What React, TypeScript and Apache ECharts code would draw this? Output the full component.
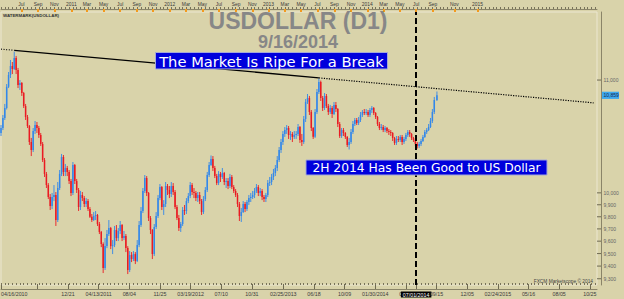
import React, { useEffect, useRef } from 'react';
import * as echarts from 'echarts';

// ---------- data ----------
const START_DATE = '2010-04-16';
const LAST_BAR = '2014-09-16';
const AXIS_END = '2015-11-13';

// weekly candles [open, close, low, high]; one per week (Fridays from 2010-04-16), last one is 2014-09-16
const weeklyOHLC: number[][] = [
  [10519,10563,10492,10590],[10563,10653,10545,10680],[10653,10743,10635,10780],[10743,10938,10730,10963],[10938,11047,10926,11075],[11047,11132,11019,11188],[11132,11103,11056,11169],[11103,11207,11094,11268],[11207,11094,11056,11226],[11094,10954,10926,11113],
  [10954,10972,10908,11000],[10972,10880,10853,10982],[10880,10761,10743,10890],[10761,10662,10635,10780],[10662,10581,10563,10680],[10581,10439,10413,10590],[10439,10369,10316,10475],[10369,10536,10351,10563],[10536,10590,10510,10626],[10590,10563,10519,10617],
  [10563,10501,10475,10581],[10501,10422,10404,10519],[10422,10281,10264,10439],[10281,10161,10135,10299],[10161,10066,10041,10178],[10066,9965,9948,10083],[9965,9889,9856,9990],[9889,9965,9864,9999],[9965,9982,9931,10066],[9982,9773,9724,10007],
  [9773,10041,9757,10092],[10041,10161,10024,10195],[10161,10307,10143,10334],[10307,10178,10143,10325],[10178,10212,10143,10247],[10212,10178,10143,10230],[10178,10100,10075,10195],[10100,9999,9973,10118],[9999,10238,9982,10264],[10238,10100,10075,10247],
  [10100,10024,9999,10118],[10024,9881,9848,10041],[9881,9982,9856,10016],[9982,9956,9931,10007],[9956,9906,9881,9973],[9906,9931,9881,9956],[9931,9864,9848,9948],[9864,9800,9790,9881],[9800,9773,9757,9823],[9773,9806,9765,9839],
  [9806,9815,9773,9848],[9815,9740,9724,9823],[9740,9675,9658,9757],[9675,9577,9552,9683],[9577,9385,9345,9590],[9385,9560,9369,9625],[9560,9658,9544,9691],[9658,9707,9642,9773],[9707,9560,9536,9716],[9560,9568,9496,9609],
  [9568,9691,9552,9724],[9691,9625,9601,9732],[9625,9683,9601,9707],[9683,9732,9658,9765],[9732,9625,9601,9740],[9625,9642,9609,9683],[9642,9544,9512,9658],[9544,9369,9337,9560],[9369,9488,9353,9520],[9488,9456,9432,9512],
  [9456,9496,9440,9520],[9496,9440,9416,9512],[9440,9568,9432,9609],[9568,9732,9552,9765],[9732,9848,9716,9881],[9848,10016,9831,10041],[10016,10126,9999,10152],[10126,9999,9973,10143],[9999,9790,9765,10007],[9790,9691,9658,9806],
  [9691,9496,9456,9699],[9496,9716,9480,9740],[9716,9806,9699,9839],[9806,9956,9790,9982],[9956,10049,9939,10075],[10049,9881,9856,10058],[9881,9906,9815,9939],[9906,10058,9881,10092],[10058,10024,9982,10075],[10024,9990,9956,10058],
  [9990,10058,9965,10092],[10058,10007,9982,10083],[10007,9881,9864,10024],[9881,9790,9773,9898],[9790,9707,9683,9815],[9707,9740,9675,9757],[9740,9856,9724,9881],[9856,9848,9815,9898],[9848,9931,9823,9956],[9931,9973,9914,9999],
  [9973,10066,9956,10092],[10066,10007,9982,10083],[10007,9999,9956,10041],[9999,9956,9931,10016],[9956,9982,9923,10007],[9982,9931,9906,10007],[9931,9839,9815,9948],[9839,9948,9823,9973],[9948,10024,9931,10049],[10024,10152,10007,10178],
  [10152,10238,10135,10264],[10238,10290,10230,10321],[10290,10212,10186,10316],[10212,10143,10126,10230],[10143,10083,10066,10161],[10083,10161,10066,10186],[10161,10135,10092,10178],[10135,10169,10118,10212],[10169,10092,10066,10178],[10092,10100,10041,10126],
  [10100,10058,10032,10126],[10058,10135,10041,10161],[10135,10049,10032,10152],[10049,10016,9999,10066],[10016,9982,9965,10032],[9982,9906,9881,9999],[9906,9806,9765,9923],[9806,9839,9757,9873],[9839,9906,9831,9931],[9906,9864,9839,9923],
  [9864,9923,9848,9939],[9923,9956,9898,9982],[9956,9965,9923,9999],[9965,9982,9948,10016],[9982,10016,9956,10041],[10016,10049,9999,10075],[10049,9999,9973,10066],[9999,10016,9973,10041],[10016,9965,9939,10032],[9965,9948,9923,9982],
  [9948,9982,9923,9999],[9982,10083,9965,10109],[10083,10092,10058,10135],[10092,10135,10066,10161],[10135,10169,10109,10204],[10169,10212,10143,10238],[10212,10281,10186,10316],[10281,10369,10264,10395],[10369,10439,10343,10466],[10439,10510,10413,10536],
  [10510,10545,10484,10572],[10545,10563,10510,10590],[10563,10501,10466,10581],[10501,10510,10457,10536],[10510,10484,10439,10527],[10484,10501,10466,10536],[10501,10510,10466,10536],[10510,10572,10492,10599],[10572,10457,10431,10581],[10457,10439,10404,10510],
  [10439,10644,10422,10671],[10644,10798,10617,10825],[10798,10834,10780,10871],[10834,10707,10680,10853],[10707,10563,10536,10725],[10563,10486,10466,10572],[10486,10707,10475,10734],[10707,10890,10689,10917],[10890,10982,10871,11014],[10982,10834,10807,10995],
  [10834,10743,10716,10853],[10743,10853,10725,10880],[10853,10761,10743,10871],[10761,10707,10680,10780],[10707,10743,10689,10771],[10743,10689,10653,10761],[10689,10771,10680,10798],[10771,10734,10707,10798],[10734,10599,10572,10743],[10599,10492,10475,10617],
  [10492,10545,10475,10563],[10545,10519,10492,10563],[10519,10484,10466,10527],[10484,10413,10395,10492],[10413,10439,10373,10475],[10439,10527,10422,10554],[10527,10599,10510,10626],[10599,10635,10581,10653],[10635,10608,10590,10653],[10608,10635,10590,10662],
  [10635,10680,10617,10707],[10680,10707,10662,10725],[10707,10698,10680,10734],[10698,10707,10680,10734],[10707,10680,10662,10725],[10680,10725,10662,10743],[10725,10743,10698,10761],[10743,10698,10680,10752],[10698,10662,10644,10707],[10662,10599,10581,10671],
  [10599,10563,10545,10617],[10563,10572,10545,10599],[10572,10545,10527,10590],[10545,10563,10527,10581],[10563,10536,10519,10572],[10536,10527,10501,10554],[10527,10519,10492,10545],[10519,10475,10448,10527],[10475,10431,10413,10484],[10431,10466,10413,10492],
  [10466,10457,10439,10492],[10457,10484,10439,10501],[10484,10439,10413,10501],[10439,10466,10422,10484],[10466,10501,10448,10519],[10501,10527,10484,10545],[10527,10510,10484,10545],[10510,10475,10457,10519],[10475,10457,10439,10484],[10457,10422,10404,10466],
  [10422,10404,10382,10439],[10404,10422,10387,10439],[10422,10448,10404,10466],[10448,10484,10439,10501],[10484,10527,10475,10545],[10527,10545,10510,10563],[10545,10572,10536,10599],[10572,10626,10563,10653],[10626,10707,10608,10734],[10707,10816,10689,10844],
  [10816,10859,10807,10894],
];

// trend line anchors: 2010 high -> 2013 high, with dotted extensions
const trendSolid: [string, number][] = [['2010-06-04', 11280], ['2013-07-05', 11020]];
const trendDottedLeft: [string, number][] = [['2010-04-16', 11291], ['2010-06-04', 11280]];
const trendDottedRight: [string, number][] = [['2013-07-05', 11020], ['2015-11-04', 10790]];
const MARKER_DATE = '2014-07-01';
const LAST_PRICE = 10859;

// bottom axis ticks / labels
const bottomLabelDates = ['2010-04-16','2010-12-21','2011-04-13','2011-08-04','2011-11-25','2012-03-19','2012-07-10','2012-10-31','2013-02-25','2013-06-18','2013-10-09','2014-01-30','2014-05-23','2014-07-01','2014-09-15','2014-12-05','2015-02-24','2015-05-16','2015-08-05','2015-10-25'];
const bottomLabelTexts = ['04/16/2010','12/21','04/13/2011','08/04','11/25','03/19/2012','07/10','10/31','02/25/2013','06/18','10/09','01/30/2014','05/23','07/01/2014','09/15','12/05','02/24/2015','05/16','08/05','10/25'];
const bottomExtraTicks = ['2010-08-30'];

// top axis month labels
const topMonths = ['2010-07','2010-09','2010-11','2011-01','2011-03','2011-05','2011-07','2011-09','2011-11','2012-01','2012-03','2012-05','2012-07','2012-09','2012-11','2013-01','2013-03','2013-05','2013-07','2013-09','2013-11','2014-01','2014-03','2014-05','2014-07','2014-09','2014-11','2015-01'];
const topTexts = ['Jul','Sep','Nov','2011','Mar','May','Jul','Sep','Nov','2012','Mar','May','Jul','Sep','Nov','2013','Mar','May','Jul','Sep','Nov','2014','Mar','May','Jul','Sep','Nov','2015'];

// right axis labels
const yTickValues = [9300, 9400, 9500, 9600, 9700, 9800, 9900, 10000, 11000];
const Y_MIN = 9251;
const Y_MAX = 11651;

// ---------- helpers ----------
function fmtDate(d: Date) { return d.toISOString().slice(0, 10); }
function addDays(s: string, n: number) {
  const d = new Date(s + 'T00:00:00Z');
  d.setUTCDate(d.getUTCDate() + n);
  return fmtDate(d);
}
function buildCategories() {
  // trading bars (weekdays) up to the last bar, then calendar days (future area)
  const cats: string[] = [];
  const d = new Date(START_DATE + 'T00:00:00Z');
  const last = new Date(LAST_BAR + 'T00:00:00Z');
  const end = new Date(AXIS_END + 'T00:00:00Z');
  while (d <= end) {
    const dow = d.getUTCDay();
    if (d > last || (dow !== 0 && dow !== 6)) cats.push(fmtDate(d));
    d.setUTCDate(d.getUTCDate() + 1);
  }
  return cats;
}

const UP = '#3287ea';
const DOWN = '#ea1a22';
const BG = '#d9d3aa';
const AXIS_C = '#8a8468';
const SMALL_FONT = '"Liberation Sans", Arial, sans-serif';

export default function App() {
  const ref = useRef<HTMLDivElement>(null);
  useEffect(() => {
    document.body.style.margin = '0';
    document.body.style.background = BG;
    if (!ref.current) return;
    const chart = echarts.init(ref.current, null, { renderer: 'svg' });

    const categories = buildCategories();
    const indexOf = new Map<string, number>();
    categories.forEach((c, i) => indexOf.set(c, i));
    const candleData = weeklyOHLC.map((c, k) => {
      const date = k === weeklyOHLC.length - 1 ? LAST_BAR : addDays(START_DATE, 7 * k);
      return [indexOf.get(date) as number, c[0], c[1], c[2], c[3]];
    });

    const bottomMap = new Map<string, string>();
    bottomLabelDates.forEach((d, i) => bottomMap.set(d, bottomLabelTexts[i]));
    const bottomTickSet = new Set<string>([...bottomLabelDates, ...bottomExtraTicks]);

    const topMap = new Map<string, string>();
    topMonths.forEach((m, i) => {
      const first = categories.find((c) => c.startsWith(m));
      if (first) topMap.set(first, topTexts[i]);
    });

    const gridBox = { left: 1, right: 27, top: 12, bottom: 14 };

    chart.setOption({
      animation: false,
      backgroundColor: BG,
      grid: [
        { ...gridBox, show: true, borderColor: '#ece7d1', borderWidth: 1, backgroundColor: 'transparent', containLabel: false, outerBoundsMode: 'none' },
        { ...gridBox, show: false, containLabel: false, outerBoundsMode: 'none' },
      ],
      xAxis: [
        {
          type: 'category', gridIndex: 0, data: categories, boundaryGap: false, position: 'bottom', offset: 4,
          axisLine: { show: true, lineStyle: { color: AXIS_C, width: 1 } },
          axisTick: { show: true, inside: true, length: 5, interval: (_i: number, v: string) => bottomTickSet.has(v), lineStyle: { color: '#6f6a52', width: 1 } },
          axisLabel: {
            show: true, interval: (_i: number, v: string) => bottomMap.has(v),
            formatter: (v: string) => (v === MARKER_DATE ? '{hl|' + bottomMap.get(v) + '}' : bottomMap.get(v) ?? ''),
            fontSize: 5.3, fontFamily: SMALL_FONT, color: '#3a3a3a', margin: 2.5, alignMinLabel: 'left',
            rich: { hl: { backgroundColor: '#000', color: '#fff', fontSize: 5.3, fontFamily: SMALL_FONT, padding: [1, 2, 0, 2] } },
          },
          splitLine: { show: false },
        },
        {
          type: 'category', gridIndex: 0, data: categories, boundaryGap: false, position: 'top', offset: 3,
          axisLine: { show: true, lineStyle: { color: AXIS_C, width: 1 } },
          axisTick: { show: true, inside: true, length: 3, interval: (_i: number, v: string) => topMap.has(v), lineStyle: { color: '#f39a1e', width: 2 } },
          axisLabel: {
            show: true, interval: (_i: number, v: string) => topMap.has(v),
            formatter: (v: string) => topMap.get(v) ?? '',
            fontSize: 4.9, fontFamily: SMALL_FONT, color: '#3a3a3a', margin: 2.5,
          },
          splitLine: { show: false },
        },
        {
          type: 'category', gridIndex: 1, data: categories, boundaryGap: false, position: 'bottom', offset: 4,
          axisLine: { show: false }, axisLabel: { show: false }, splitLine: { show: false },
          axisTick: { show: true, inside: true, length: 2, interval: 9, lineStyle: { color: '#77725a', width: 1 } },
        },
        {
          type: 'category', gridIndex: 1, data: categories, boundaryGap: false, position: 'top', offset: 3,
          axisLine: { show: false }, axisLabel: { show: false }, splitLine: { show: false },
          axisTick: { show: true, inside: false, length: 2, interval: 9, lineStyle: { color: '#77725a', width: 1 } },
        },
      ],
      yAxis: [
        {
          type: 'log', gridIndex: 0, min: Y_MIN, max: Y_MAX, position: 'right', offset: 4,
          axisLine: { show: true, lineStyle: { color: AXIS_C, width: 1 } },
          axisTick: { show: false }, axisLabel: { show: false }, splitLine: { show: false },
        },
        { type: 'value', gridIndex: 1, show: false },
      ],
      series: [
        {
          type: 'custom', name: 'USDOLLAR', xAxisIndex: 0, yAxisIndex: 0, data: candleData,
          encode: { x: 0, y: [1, 2, 3, 4] }, silent: true, z: 3,
          renderItem: (_params: any, api: any) => {
            const xi = api.value(0);
            const o = api.value(1), c = api.value(2), l = api.value(3), h = api.value(4);
            const pO = api.coord([xi, o]);
            const pC = api.coord([xi, c]);
            const pL = api.coord([xi, l]);
            const pH = api.coord([xi, h]);
            const color = c >= o ? UP : DOWN;
            const w = 1.5;
            const top = Math.min(pO[1], pC[1]);
            const hgt = Math.max(Math.abs(pO[1] - pC[1]), 0.8);
            return {
              type: 'group',
              children: [
                { type: 'line', shape: { x1: pH[0], y1: pH[1], x2: pL[0], y2: pL[1] }, style: { stroke: color, lineWidth: 0.9 } },
                { type: 'rect', shape: { x: pO[0] - w / 2, y: top, width: w, height: hgt }, style: { fill: color } },
              ],
            };
          },
          markLine: {
            silent: true, symbol: ['none', 'none'], label: { show: false },
            lineStyle: { color: '#000', type: [6, 3], width: 2 },
            data: [{ xAxis: indexOf.get(MARKER_DATE) }],
          },
        },
        { type: 'line', xAxisIndex: 0, yAxisIndex: 0, data: trendSolid, symbol: 'none', silent: true, z: 5, lineStyle: { color: '#000', width: 1.3 } },
        { type: 'line', xAxisIndex: 0, yAxisIndex: 0, data: trendDottedLeft, symbol: 'none', silent: true, z: 5, lineStyle: { color: '#000', width: 1.1, type: [1, 1.6] } },
        { type: 'line', xAxisIndex: 0, yAxisIndex: 0, data: trendDottedRight, symbol: 'none', silent: true, z: 5, lineStyle: { color: '#000', width: 1.2, type: [1.2, 1.3] } },
      ],
    });

    // annotations and right-axis labels positioned through the axis scales
    const g: any[] = [];
    const axisX = 601;
    yTickValues.forEach((v) => {
      const py = chart.convertToPixel({ yAxisIndex: 0 }, v) as number;
      g.push({ type: 'line', z: 100, shape: { x1: 597, y1: py, x2: axisX, y2: py }, style: { stroke: '#6f6a52', lineWidth: 1 } });
      g.push({ type: 'text', z: 100, x: 603.5, y: py, style: { text: v.toLocaleString('en-US'), font: '5px ' + SMALL_FONT, fill: '#666', textAlign: 'left', textVerticalAlign: 'middle' } });
    });
    const pyLast = chart.convertToPixel({ yAxisIndex: 0 }, LAST_PRICE) as number;
    g.push({ type: 'rect', z: 100, shape: { x: 602, y: pyLast - 3.6, width: 17, height: 7.2 }, style: { fill: '#3ca8f0' } });
    g.push({ type: 'text', z: 101, x: 603.5, y: pyLast, style: { text: LAST_PRICE.toLocaleString('en-US'), font: '5px ' + SMALL_FONT, fill: '#1b2a4a', textAlign: 'left', textVerticalAlign: 'middle' } });

    g.push({ type: 'text', z: 100, x: 298, y: 20.5, style: { text: 'USDOLLAR (D1)', font: 'bold 23px "Liberation Sans", Arial, sans-serif', fill: '#878787', textAlign: 'center', textVerticalAlign: 'middle' } });
    g.push({ type: 'text', z: 100, x: 298, y: 42, style: { text: '9/16/2014', font: 'bold 18px "Liberation Sans", Arial, sans-serif', fill: '#878787', textAlign: 'center', textVerticalAlign: 'middle' } });

    g.push({ type: 'rect', z: 100, shape: { x: 155.5, y: 52.5, width: 232, height: 16.5 }, style: { fill: '#0000dc', stroke: '#a4a8d8', lineWidth: 1 } });
    g.push({ type: 'text', z: 101, x: 271.5, y: 61, style: { text: 'The Market Is Ripe For a Break', font: '14.7px "DejaVu Sans", Verdana, sans-serif', fill: '#ffffff', textAlign: 'center', textVerticalAlign: 'middle' } });

    g.push({ type: 'rect', z: 100, shape: { x: 306, y: 160, width: 241, height: 15 }, style: { fill: '#0000dc', stroke: '#a4a8d8', lineWidth: 1 } });
    g.push({ type: 'text', z: 101, x: 426.5, y: 167.7, style: { text: '2H 2014 Has Been Good to US Dollar', font: '12.3px "DejaVu Sans", Verdana, sans-serif', fill: '#ffffff', textAlign: 'center', textVerticalAlign: 'middle' } });

    g.push({ type: 'text', z: 100, x: 3, y: 15, style: { text: 'WATERMARK(USDOLLAR)', font: 'bold 4.4px ' + SMALL_FONT, fill: '#333', textAlign: 'left', textVerticalAlign: 'middle' } });
    g.push({ type: 'text', z: 100, x: 593, y: 281, style: { text: 'FXCM Marketscope \u00a9 2014', font: '4.8px ' + SMALL_FONT, fill: '#444', textAlign: 'right', textVerticalAlign: 'middle' } });

    chart.setOption({ graphic: g });

    return () => chart.dispose();
  }, []);
  return <div ref={ref} style={{ width: 624, height: 299 }} />;
}
